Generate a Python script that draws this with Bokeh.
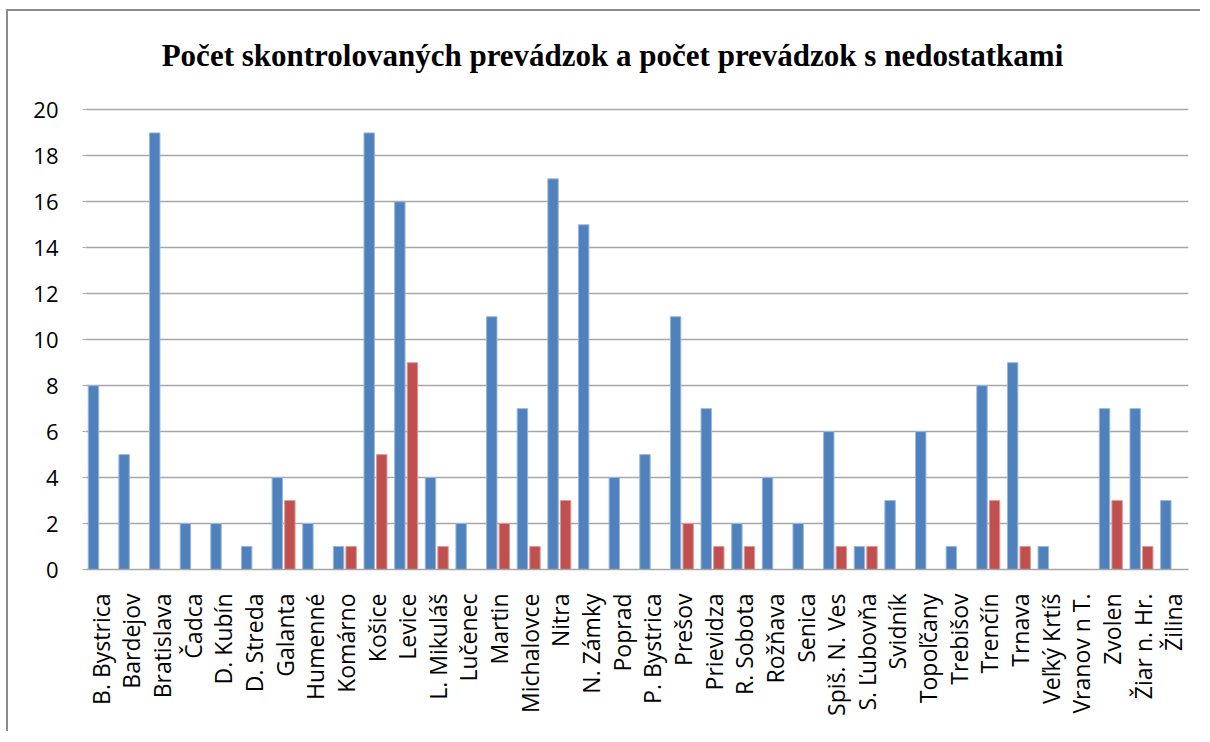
import math
from bokeh.plotting import figure
from bokeh.models import ColumnDataSource, FactorRange, FixedTicker, Label, Range1d
from bokeh.transform import dodge
from bokeh.embed import file_html
from bokeh.resources import INLINE

categories = ["B. Bystrica", "Bardejov", "Bratislava", "Čadca", "D. Kubín", "D. Streda",
              "Galanta", "Humenné", "Komárno", "Košice", "Levice", "L. Mikuláš", "Lučenec",
              "Martin", "Michalovce", "Nitra", "N. Zámky", "Poprad", "P. Bystrica", "Prešov",
              "Prievidza", "R. Sobota", "Rožňava", "Senica", "Spiš. N. Ves", "S. Ľubovňa",
              "Svidník", "Topoľčany", "Trebišov", "Trenčín", "Trnava", "Veľký Krtíš",
              "Vranov n T.", "Zvolen", "Žiar n. Hr.", "Žilina"]
kontrolovane = [8, 5, 19, 2, 2, 1, 4, 2, 1, 19, 16, 4, 2, 11, 7, 17, 15, 4, 5, 11,
                7, 2, 4, 2, 6, 1, 3, 6, 1, 8, 9, 1, 0, 7, 7, 3]
nedostatky = [0, 0, 0, 0, 0, 0, 3, 0, 1, 5, 9, 1, 0, 2, 1, 3, 0, 0, 0, 2,
              1, 1, 0, 0, 1, 1, 0, 0, 0, 3, 1, 0, 0, 3, 1, 0]
y_ticks = [0, 2, 4, 6, 8, 10, 12, 14, 16, 18, 20]
title_text = "Počet skontrolovaných prevádzok a počet prevádzok s nedostatkami"

source = ColumnDataSource(dict(cat=categories, a=kontrolovane, b=nedostatky))

# the frame extends above 20 to host the title; gridlines/ticks stop at 20
p = figure(x_range=FactorRange(factors=categories), y_range=Range1d(0, 23.5),
           width=1194, height=722, output_backend="svg", toolbar_location=None,
           min_border_left=77, min_border_right=14, min_border_top=18, min_border_bottom=164)
p.styles = {"margin-left": "6px", "margin-top": "9px",
            "border-top": "2px solid #8c8c8c", "border-left": "2px solid #8c8c8c"}
p.title = None

title = Label(x=17.2, y=22.35, text=title_text,
              text_align="center", text_baseline="middle", text_font="Liberation Serif",
              text_font_style="bold", text_font_size="31px", text_color="black")
p.add_layout(title)

p.vbar(x=dodge("cat", -0.24, range=p.x_range), top="a", width=0.34, source=source,
       fill_color="#4F81BD", line_color="#9AB6DB", line_width=1)
p.vbar(x=dodge("cat", 0.17, range=p.x_range), top="b", width=0.34, source=source,
       fill_color="#C0504D", line_color="#DB9A98", line_width=1)

p.outline_line_color = None
p.xgrid.grid_line_color = None
p.ygrid.grid_line_color = "#A6A6A6"
p.ygrid.grid_line_width = 1.5
p.yaxis.ticker = FixedTicker(ticks=y_ticks)
p.yaxis.axis_line_color = None
p.yaxis.major_tick_line_color = "#A6A6A6"
p.yaxis.major_tick_out = 3
p.yaxis.major_tick_in = 0
p.yaxis.minor_tick_line_color = None
p.yaxis.major_label_standoff = 24
p.yaxis.major_label_text_font = "Open Sans"
p.yaxis.major_label_text_font_size = "22px"
p.yaxis.major_label_text_color = "black"

p.xaxis.axis_line_color = "#A6A6A6"
p.xaxis.axis_line_width = 1.5
p.xaxis.major_tick_line_color = None
p.xaxis.major_tick_out = 0
p.xaxis.major_tick_in = 0
p.xaxis.major_label_orientation = math.pi / 2
p.xaxis.major_label_standoff = 24
p.xaxis.major_label_text_font = "Open Sans"
p.xaxis.major_label_text_font_size = "23px"
p.xaxis.major_label_text_color = "black"

open("out.html", "w").write(file_html(p, INLINE))
